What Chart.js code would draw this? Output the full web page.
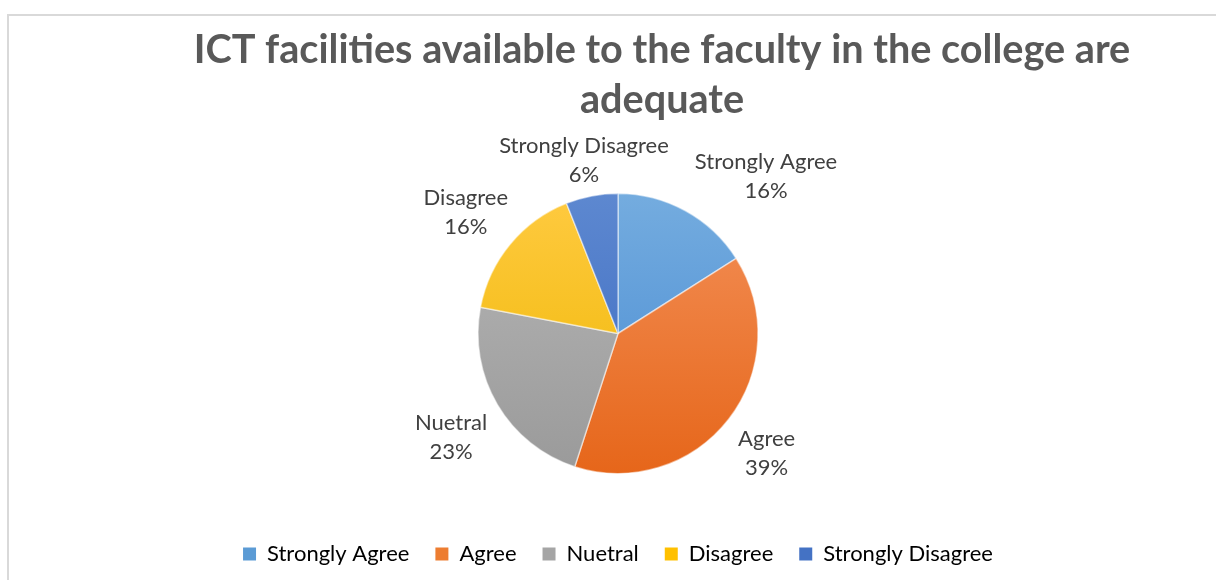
<!DOCTYPE html>
<html>
<head>
<meta charset="utf-8">
<script src="https://cdn.jsdelivr.net/npm/chart.js@4/dist/chart.umd.min.js"></script>
<style>
  html, body { margin: 0; padding: 0; background: #fff; overflow: hidden; }
  #frame { position: absolute; left: 7px; top: 14px; width: 1400px; height: 800px; border: 2px solid #d9d9d9; box-sizing: border-box; }
  #wrap { position: absolute; left: 0; top: 0; width: 1216px; height: 580px; }
</style>
</head>
<body>
<div id="frame"></div>
<div id="wrap"><canvas id="c" width="1216" height="580"></canvas></div>
<script>
const titleLines = ["ICT facilities available to the faculty in the college are", "adequate"];
const categories = ["Strongly Agree", "Agree", "Nuetral", "Disagree", "Strongly Disagree"];
const percentages = [16, 39, 23, 16, 6];
const lightColors = ["#74acdf", "#f39058", "#b6b6b6", "#ffca40", "#5d88d0"];
const darkColors  = ["#478ad2", "#e6661a", "#9a9a9a", "#edb600", "#3a69c0"];
const baseColors  = ["#5b9bd5", "#ed7d31", "#a5a5a5", "#ffc000", "#4472c4"];

const FONT = "Lato, 'Open Sans', sans-serif";
const PIE_R = 140;

function sliceFill(ctx) {
  const chart = ctx.chart;
  const i = ctx.dataIndex;
  const area = chart.chartArea;
  if (!area) return baseColors[i];
  const cy = (area.top + area.bottom) / 2;
  const g = chart.ctx.createLinearGradient(0, cy - PIE_R, 0, cy + PIE_R);
  g.addColorStop(0, lightColors[i]);
  g.addColorStop(1, darkColors[i]);
  return g;
}

const titlePlugin = {
  id: 'excelTitle',
  afterDraw(chart) {
    const ctx = chart.ctx;
    ctx.save();
    ctx.fillStyle = '#595959';
    ctx.textAlign = 'center';
    ctx.textBaseline = 'middle';
    let size = 36;
    ctx.font = `bold ${size}px ${FONT}`;
    const w = ctx.measureText(titleLines[0]).width;
    size = size * 937 / w;
    ctx.font = `bold ${size}px ${FONT}`;
    titleLines.forEach((t, k) => ctx.fillText(t, 662, 50 + k * 50));
    ctx.restore();
  }
};

const labelPlugin = {
  id: 'outsideLabels',
  afterDatasetsDraw(chart) {
    const ctx = chart.ctx;
    const meta = chart.getDatasetMeta(0);
    const total = percentages.reduce((a, b) => a + b, 0);
    const lineH = 29;
    const gap = 12;
    const textShift = 5;
    ctx.save();
    ctx.font = `22px ${FONT}`;
    const boxes = meta.data.map((arc, i) => {
      const lines = [categories[i], Math.round(percentages[i] / total * 100) + '%'];
      const w = Math.max(...lines.map(l => ctx.measureText(l).width));
      const h = lines.length * lineH;
      const mid = (arc.startAngle + arc.endAngle) / 2;
      const dx = Math.cos(mid), dy = Math.sin(mid);
      const t = Math.min(Math.abs(dx) > 1e-6 ? (w / 2) / Math.abs(dx) : 1e9,
                         Math.abs(dy) > 1e-6 ? (h / 2) / Math.abs(dy) : 1e9);
      const d = arc.outerRadius + gap + t;
      return { lines, w, h, dx, cx: arc.x + dx * d, cy: arc.y + dy * d };
    });
    for (let a = 0; a < boxes.length; a++) {
      for (let b = 0; b < boxes.length; b++) {
        if (a === b) continue;
        const A = boxes[a], B = boxes[b];
        const ovX = (A.w + B.w) / 2 + 26 - Math.abs(A.cx - B.cx);
        const ovY = (A.h + B.h) / 2 - Math.abs(A.cy - B.cy);
        if (ovX > 0 && ovY > 0 && A.dx > 0 && A.cx >= B.cx) A.cx += ovX;
      }
    }
    ctx.fillStyle = '#404040';
    ctx.textAlign = 'center';
    ctx.textBaseline = 'middle';
    boxes.forEach(bx => {
      bx.lines.forEach((l, k) => {
        ctx.fillText(l, bx.cx, bx.cy - bx.h / 2 + lineH / 2 + k * lineH + textShift);
      });
    });
    ctx.restore();
  }
};

new Chart(document.getElementById('c'), {
  type: 'pie',
  data: {
    labels: categories,
    datasets: [{
      data: percentages,
      backgroundColor: sliceFill,
      borderColor: 'rgba(255,255,255,0.5)',
      borderWidth: 1.5,
      hoverOffset: 0
    }]
  },
  options: {
    responsive: false,
    animation: false,
    radius: PIE_R,
    layout: { padding: { top: 150, bottom: 5, left: 20, right: 0 } },
    plugins: {
      title: { display: false },
      tooltip: { enabled: false },
      legend: {
        position: 'bottom',
        labels: {
          boxWidth: 13,
          boxHeight: 13,
          padding: 26,
          color: '#595959',
          font: { family: FONT, size: 22 },
          generateLabels(chart) {
            return categories.map((c, i) => ({
              text: c, fillStyle: baseColors[i], strokeStyle: baseColors[i], lineWidth: 0, index: i, hidden: false
            }));
          }
        }
      }
    }
  },
  plugins: [titlePlugin, labelPlugin]
});
</script>
</body>
</html>
